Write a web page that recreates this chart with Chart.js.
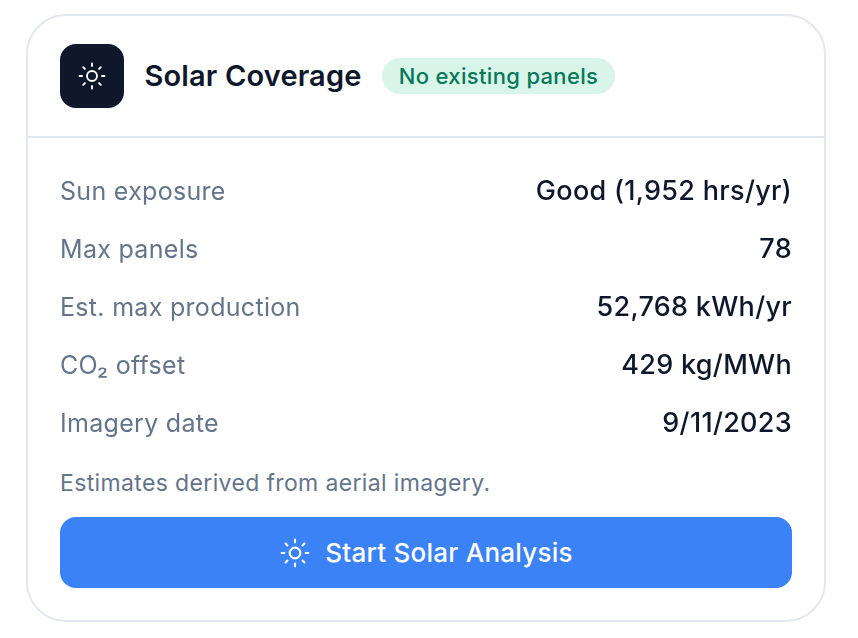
<!DOCTYPE html>
<html>
<head>
<meta charset="utf-8">
<title>Solar Coverage</title>
<script src="https://cdn.jsdelivr.net/npm/chart.js@4"></script>
<style>
  html, body { margin: 0; padding: 0; background: #fff; }
  body { width: 858px; height: 638px; position: relative; overflow: hidden; font-family: Inter, sans-serif; }
  .card { position: absolute; left: 26px; top: 14px; width: 796px; height: 604px; border: 2px solid #e2e8f0; border-radius: 40px; }
  .abs { position: absolute; white-space: nowrap; }
  .divider { left: 26px; top: 136px; width: 800px; height: 2px; background: #e2e8f0; }
  .icon { left: 60px; top: 44px; width: 64px; height: 64px; border-radius: 16px; background: #0f172a; display: flex; align-items: center; justify-content: center; }
  .title { left: 144.5px; top: 58px; font-size: 29px; line-height: 36px; font-weight: 600; letter-spacing: 0.15px; color: #0f172a; }
  .badge { left: 382px; top: 58px; width: 233px; height: 36px; border-radius: 18px; background: #d9f5ea; color: #047857; font-size: 22px; font-weight: 500; letter-spacing: 0.33px; line-height: 36px; text-align: center; }
  .note { left: 60px; top: 468px; font-size: 23px; letter-spacing: 0.36px; line-height: 30px; color: #64748b; }
  .button { left: 60px; top: 517px; width: 732px; height: 71px; border-radius: 16px; background: #3b82f6; color: #fff; font-size: 26px; letter-spacing: 0.25px; font-weight: 500; display: flex; align-items: center; justify-content: center; gap: 14px; }
  .rows { left: 60px; top: 163px; width: 732px; height: 290px; }
</style>
</head>
<body>
<div class="card"></div>
<div class="abs divider"></div>
<div class="abs icon">
  <svg width="30" height="30" viewBox="0 0 24 24" fill="none" stroke="#fff" stroke-width="1.5" stroke-linecap="round"><circle cx="12" cy="12" r="4"/><path d="M12 2v2M12 20v2M4.93 4.93l1.41 1.41M17.66 17.66l1.41 1.41M2 12h2M20 12h2M6.34 17.66l-1.41 1.41M19.07 4.93l-1.41 1.41"/></svg>
</div>
<div class="abs title">Solar Coverage</div>
<div class="abs badge">No existing panels</div>
<div class="abs rows"><canvas id="solarRows"></canvas></div>
<div class="abs note">Estimates derived from aerial imagery.</div>
<div class="abs button">
  <svg width="32" height="32" viewBox="0 0 24 24" fill="none" stroke="#fff" stroke-width="1.6" stroke-linecap="round"><circle cx="12" cy="12" r="4"/><path d="M12 2v2M12 20v2M4.93 4.93l1.41 1.41M17.66 17.66l1.41 1.41M2 12h2M20 12h2M6.34 17.66l-1.41 1.41M19.07 4.93l-1.41 1.41"/></svg>
  <span>Start Solar Analysis</span>
</div>
<script>
const rowLabels = ['Sun exposure', 'Max panels', 'Est. max production', 'CO₂ offset', 'Imagery date'];
const rowValues = ['Good (1,952 hrs/yr)', '78', '52,768 kWh/yr', '429 kg/MWh', '9/11/2023'];

// no padding for half a label: rows should fill the whole canvas
function fitAxis(scale) {
    scale.width = 320;
    scale.paddingTop = 0;
    scale.paddingBottom = 0;
}

// the reference text runs a little wider than the installed Inter
const spacing = {
    id: 'spacing',
    beforeDraw: function (chart) { chart.ctx.letterSpacing = '0.3px'; }
};

document.addEventListener('DOMContentLoaded', function () {
    const ctx = document.getElementById('solarRows').getContext('2d');
    new Chart(ctx, {
        type: 'bar',
        data: {
            labels: rowLabels,
            datasets: [{ data: [], yAxisID: 'y' }, { data: [], yAxisID: 'y2' }]
        },
        plugins: [spacing],
        options: {
            indexAxis: 'y',
            responsive: true,
            maintainAspectRatio: false,
            animation: false,
            layout: { padding: 0 },
            plugins: { legend: { display: false }, tooltip: { enabled: false } },
            scales: {
                x: { display: false },
                y: {
                    type: 'category',
                    position: 'left',
                    labels: rowLabels,
                    offset: true,
                    grid: { display: false },
                    border: { display: false },
                    ticks: { color: '#64748b', padding: 0, crossAlign: 'far', font: { family: 'Inter', size: 25 } },
                    afterFit: fitAxis
                },
                y2: {
                    type: 'category',
                    position: 'right',
                    labels: rowValues,
                    offset: true,
                    grid: { display: false },
                    border: { display: false },
                    ticks: { color: '#0f172a', padding: 0, crossAlign: 'far', font: { family: 'Inter', size: 27, weight: 500 } },
                    afterFit: fitAxis
                }
            }
        }
    });
});
</script>
</body>
</html>
